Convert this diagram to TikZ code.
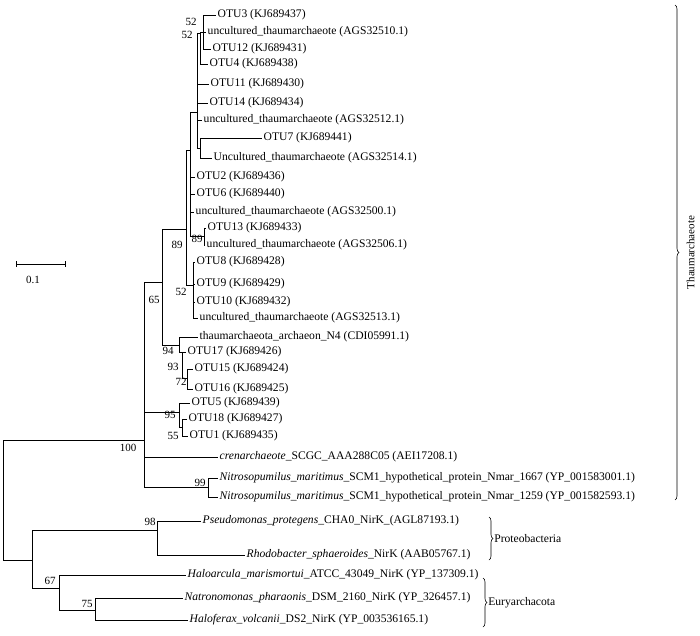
\documentclass[tikz,border=0pt]{standalone}
\usepackage{fontspec}
\setmainfont{Liberation Serif}
\usetikzlibrary{decorations.pathreplacing}

\begin{document}
\begin{tikzpicture}[
        x=1pt, y=-1pt,
        font=\fontsize{11.6}{13}\selectfont,
        leaf/.style={anchor=west, inner sep=1.5pt},
        boot/.style={inner sep=0pt, font=\fontsize{11}{12}\selectfont},
        branch/.style={line width=0.7pt},
        clade/.style={decorate, decoration={brace, amplitude=4pt}, line width=0.6pt},
    ]
    \useasboundingbox (0,0) rectangle (700,635);
    % internal nodes of the tree
    \coordinate (root) at (3,500);
    \coordinate (n100) at (144,440);
    \coordinate (nbot) at (32,560);
    \coordinate (n65) at (162,282);
    \coordinate (n95) at (179,412);
    \coordinate (n99) at (208,487);
    \coordinate (n89a) at (186,229);
    \coordinate (n94) at (179,345);
    \coordinate (nup) at (190,150);
    \coordinate (n52c) at (193,285);
    \coordinate (ntop) at (197,112);
    \coordinate (n89b) at (204,236);
    \coordinate (n52b) at (200,33);
    \coordinate (n52a) at (203,32);
    \coordinate (n7) at (200,148);
    \coordinate (n93) at (182,352);
    \coordinate (n72) at (187,378);
    \coordinate (n55) at (182,427);
    \coordinate (n98) at (157,530);
    \coordinate (n67) at (59,588);
    \coordinate (n75) at (95,610);
    % leaves
    \node[leaf] (otu3) at (216,15) {OTU3 (KJ689437)};
    \node[leaf] (a10) at (206,32) {uncultured\_thaumarchaeote (AGS32510.1)};
    \node[leaf] (otu12) at (211,49) {OTU12 (KJ689431)};
    \node[leaf] (otu4) at (208,64) {OTU4 (KJ689438)};
    \node[leaf] (otu11) at (209,84) {OTU11 (KJ689430)};
    \node[leaf] (otu14) at (208,103) {OTU14 (KJ689434)};
    \node[leaf] (a12) at (202,120) {uncultured\_thaumarchaeote (AGS32512.1)};
    \node[leaf] (otu7) at (262,138) {OTU7 (KJ689441)};
    \node[leaf] (a14) at (212,158) {Uncultured\_thaumarchaeote (AGS32514.1)};
    \node[leaf] (otu2) at (195,177) {OTU2 (KJ689436)};
    \node[leaf] (otu6) at (195,194) {OTU6 (KJ689440)};
    \node[leaf] (a00) at (194,212) {uncultured\_thaumarchaeote (AGS32500.1)};
    \node[leaf] (otu13) at (206,228) {OTU13 (KJ689433)};
    \node[leaf] (a06) at (205,245) {uncultured\_thaumarchaeote (AGS32506.1)};
    \node[leaf] (otu8) at (195,262) {OTU8 (KJ689428)};
    \node[leaf] (otu9) at (195,284) {OTU9 (KJ689429)};
    \node[leaf] (otu10) at (195,302) {OTU10 (KJ689432)};
    \node[leaf] (a13) at (198,318) {uncultured\_thaumarchaeote (AGS32513.1)};
    \node[leaf] (n4) at (198,337) {thaumarchaeota\_archaeon\_N4 (CDI05991.1)};
    \node[leaf] (otu17) at (186,352) {OTU17 (KJ689426)};
    \node[leaf] (otu15) at (193,369) {OTU15 (KJ689424)};
    \node[leaf] (otu16) at (193,389) {OTU16 (KJ689425)};
    \node[leaf] (otu5) at (190,403) {OTU5 (KJ689439)};
    \node[leaf] (otu18) at (187,419) {OTU18 (KJ689427)};
    \node[leaf] (otu1) at (188,436) {OTU1 (KJ689435)};
    \node[leaf] (cren) at (218,457) {\textit{crenarchaeote}\_SCGC\_AAA288C05 (AEI17208.1)};
    \node[leaf] (nm1667) at (218,478) {\textit{Nitrosopumilus\_maritimus}\_SCM1\_hypothetical\_protein\_Nmar\_1667 (YP\_001583001.1)};
    \node[leaf] (nm1259) at (218,497) {\textit{Nitrosopumilus\_maritimus}\_SCM1\_hypothetical\_protein\_Nmar\_1259 (YP\_001582593.1)};
    \node[leaf] (pp) at (201,521) {\textit{Pseudomonas\_protegens}\_CHA0\_NirK\_(AGL87193.1)};
    \node[leaf] (rs) at (245,555) {\textit{Rhodobacter\_sphaeroides}\_NirK (AAB05767.1)};
    \node[leaf] (hm) at (186,575) {\textit{Haloarcula\_marismortui}\_ATCC\_43049\_NirK (YP\_137309.1)};
    \node[leaf] (np) at (183,598) {\textit{Natronomonas\_pharaonis}\_DSM\_2160\_NirK (YP\_326457.1)};
    \node[leaf] (hv) at (188,620) {\textit{Haloferax\_volcanii}\_DS2\_NirK (YP\_003536165.1)};
    % branches between internal nodes
    \foreach \p/\c in {root/n100, root/nbot, n100/n65, n100/n95, n100/n99,
        n65/n89a, n65/n94, n89a/nup, n89a/n52c, nup/ntop, nup/n89b,
        ntop/n52b, ntop/n7, n52b/n52a, n94/n93, n93/n72, n95/n55,
        nbot/n98, nbot/n67, n67/n75}
        \draw[branch] (\p) |- (\c);
    % branches to the leaves
    \foreach \p/\c in {n52a/otu3, n52a/a10, n52a/otu12, n52b/otu4,
        ntop/otu11, ntop/otu14, ntop/a12, n7/otu7, n7/a14,
        nup/otu2, nup/otu6, nup/a00, n89b/otu13, n89b/a06,
        n52c/otu8, n52c/otu9, n52c/otu10, n52c/a13,
        n94/n4, n93/otu17, n72/otu15, n72/otu16,
        n95/otu5, n55/otu18, n55/otu1, n100/cren, n99/nm1667, n99/nm1259,
        n98/pp, n98/rs, n67/hm, n75/np, n75/hv}
        \draw[branch] (\p) |- (\c.west);
    % bootstrap values
    \node[boot] (b52a) at (191,22) {52};
    \node[boot] (b52b) at (187,35) {52};
    \node[boot] (b89a) at (177,245) {89};
    \node[boot] (b89b) at (197,239) {89};
    \node[boot] (b52c) at (181,292) {52};
    \node[boot] (b65) at (154,300) {65};
    \node[boot] (b94) at (168,351) {94};
    \node[boot] (b93) at (173,367) {93};
    \node[boot] (b72) at (181,382) {72};
    \node[boot] (b95) at (170,415) {95};
    \node[boot] (b55) at (173,436) {55};
    \node[boot] (b100) at (128,448) {100};
    \node[boot] (b99) at (200,483) {99};
    \node[boot] (b98) at (150,522) {98};
    \node[boot] (b67) at (50,581) {67};
    \node[boot] (b75) at (87,604) {75};
    % scale bar
    \coordinate (sbl) at (16,264);
    \coordinate (sbr) at (65,264);
    \draw[branch] (sbl) -- (sbr);
    \draw[branch] ([yshift=3pt]sbl) -- ([yshift=-3pt]sbl);
    \draw[branch] ([yshift=3pt]sbr) -- ([yshift=-3pt]sbr);
    \node[boot] (sblabel) at (33,280) {0.1};
    % clades
    \coordinate (thT) at (675,5);
    \coordinate (thB) at (675,500);
    \draw[clade] (thT) -- (thB) node[midway, right=8pt, rotate=90, anchor=north, font=\fontsize{11}{12}\selectfont] (thname) {Thaumarchaeote};
    \coordinate (prT) at (489,517);
    \coordinate (prB) at (489,560);
    \draw[clade] (prT) -- (prB) node[midway, right=4pt, inner sep=1pt] (prname) {Proteobacteria};
    \coordinate (euT) at (483,578);
    \coordinate (euB) at (483,627);
    \draw[clade] (euT) -- (euB) node[midway, right=4pt, inner sep=1pt] (euname) {Euryarchacota};
\end{tikzpicture}
\end{document}
